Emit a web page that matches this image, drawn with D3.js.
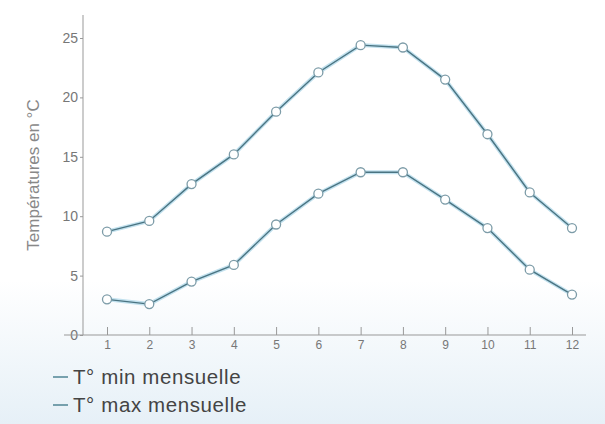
<!DOCTYPE html>
<html>
<head>
<meta charset="utf-8">
<script src="https://cdn.jsdelivr.net/npm/d3@7"></script>
<style>
  body { margin: 0; background: #fff; }
  svg { display: block; }
</style>
</head>
<body>
<svg id="chart" width="605" height="424"></svg>
<script>
// monthly temperatures
var months = [1, 2, 3, 4, 5, 6, 7, 8, 9, 10, 11, 12];
var tMin = [3.0, 2.6, 4.5, 5.9, 9.3, 11.9, 13.7, 13.7, 11.4, 9.0, 5.5, 3.4];
var tMax = [8.7, 9.6, 12.7, 15.2, 18.8, 22.1, 24.4, 24.2, 21.5, 16.9, 12.0, 9.0];
var yTicks = [0, 5, 10, 15, 20, 25];
var seriesNames = ["T° min mensuelle", "T° max mensuelle"];

var svg = d3.select("#chart");

// background fades to light blue at the bottom
var defs = svg.append("defs");
var grad = defs.append("linearGradient").attr("id", "bg").attr("x1", 0).attr("y1", 0).attr("x2", 0).attr("y2", 1);
grad.append("stop").attr("offset", "0.66").attr("stop-color", "#ffffff");
grad.append("stop").attr("offset", "1").attr("stop-color", "#e6f0f7");
svg.append("rect").attr("width", 605).attr("height", 424).style("fill", "url(#bg)");

var x = d3.scaleLinear().domain([1, 12]).range([107, 572]);
var y = d3.scaleLinear().domain([0, 25]).range([335, 38]);

// y axis
var yAxis = svg.append("g").attr("transform", "translate(83,0)")
  .call(d3.axisLeft(y).tickValues(yTicks).tickSize(3).tickPadding(2));
yAxis.select(".domain").remove();
yAxis.selectAll("line").style("stroke", "#999");
yAxis.selectAll("text").style("font-family", "Liberation Sans, Arial, sans-serif").style("font-size", "14px").style("fill", "#777");
svg.append("line").attr("x1", 83).attr("x2", 83).attr("y1", 15).attr("y2", 335).style("stroke", "#999").style("stroke-width", 1);

// x axis, ticks pointing up
var xAxis = svg.append("g").attr("transform", "translate(0,335)")
  .call(d3.axisBottom(x).tickValues(months).tickSize(-8).tickPadding(5));
xAxis.select(".domain").remove();
xAxis.selectAll("line").style("stroke", "#999");
xAxis.selectAll("text").style("font-family", "Liberation Sans Narrow, Liberation Sans, Arial, sans-serif").style("font-size", "12px").style("fill", "#777");
svg.append("line").attr("x1", 64).attr("x2", 586).attr("y1", 335).attr("y2", 335).style("stroke", "#999").style("stroke-width", 1);

svg.append("text")
  .attr("transform", "translate(39," + 175 + ") rotate(-90)")
  .attr("text-anchor", "middle")
  .text("Températures en °C")
  .style("font-family", "Liberation Sans, Arial, sans-serif").style("font-size", "17px").style("fill", "#888");

var line = d3.line().x(function(d, i) { return x(months[i]); }).y(function(d) { return y(d); });

[tMin, tMax].forEach(function(s) {
  svg.append("path").attr("d", line(s)).style("fill", "none").style("stroke", "#c2e1ee").style("stroke-width", 4);
  svg.append("path").attr("d", line(s)).style("fill", "none").style("stroke", "#4a7482").style("stroke-width", 1.4);
  svg.selectAll(null).data(s).enter().append("circle")
    .attr("cx", function(d, i) { return x(months[i]); })
    .attr("cy", function(d) { return y(d); })
    .attr("r", 4.5)
    .style("fill", "#fff").style("stroke", "#7d9ca8").style("stroke-width", 1.3);
});

// legend
var leg = svg.selectAll(".leg").data(seriesNames).enter().append("g")
  .attr("class", "leg")
  .attr("transform", function(d, i) { return "translate(0," + (377 + i * 28) + ")"; });
leg.append("line").attr("x1", 53).attr("x2", 68).attr("y1", 0).attr("y2", 0).style("stroke", "#4f8494").style("stroke-width", 1.5);
leg.append("text").attr("x", 73).attr("y", 7).text(function(d) { return d; })
  .style("font-family", "Liberation Sans, Arial, sans-serif").style("font-size", "20.5px").style("fill", "#444").style("letter-spacing", "0.6px");
</script>
</body>
</html>
